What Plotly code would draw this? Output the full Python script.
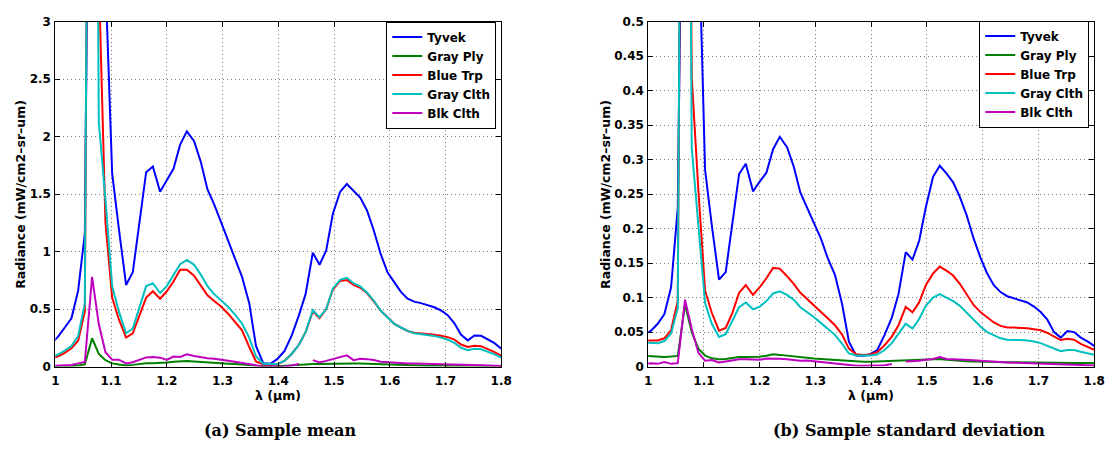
import plotly.graph_objects as go

# wavelength samples (um)
wl = [0.993, 1.005, 1.017, 1.029, 1.041, 1.053, 1.066, 1.078, 1.090, 1.102,
      1.114, 1.127, 1.139, 1.151, 1.163, 1.175, 1.188, 1.200, 1.212, 1.224,
      1.236, 1.249, 1.261, 1.273, 1.285, 1.297, 1.310, 1.322, 1.335, 1.348,
      1.360, 1.373, 1.386, 1.398, 1.411, 1.424, 1.437, 1.449, 1.462, 1.474,
      1.486, 1.498, 1.511, 1.523, 1.535, 1.547, 1.559, 1.571, 1.584, 1.596,
      1.608, 1.620, 1.632, 1.644, 1.656, 1.668, 1.680, 1.692, 1.704, 1.716,
      1.728, 1.740, 1.752, 1.764, 1.776, 1.788, 1.800, 1.812]

names = ["Tyvek", "Gray Ply", "Blue Trp", "Gray Clth", "Blk Clth"]
colors = ["#0000FF", "#008000", "#FF0000", "#00BFBF", "#BF00BF"]

# ---- (a) sample mean ----
mean_tyvek = [0.20, 0.26, 0.34, 0.42, 0.66, 1.16, 8.0, 12.0, 3.37, 1.68,
              1.20, 0.71, 0.82, 1.26, 1.69, 1.74, 1.52, 1.62, 1.72, 1.93,
              2.045, 1.96, 1.78, 1.54, 1.41, 1.26, 1.10, 0.94, 0.78, 0.55,
              0.18, 0.03, 0.025, 0.065, 0.135, 0.27, 0.445, 0.63, 0.99, 0.885,
              1.01, 1.33, 1.52, 1.587, 1.525, 1.47, 1.36, 1.19, 0.975, 0.82,
              0.735, 0.65, 0.59, 0.565, 0.552, 0.536, 0.516, 0.488, 0.447, 0.376,
              0.277, 0.228, 0.27, 0.268, 0.238, 0.204, 0.155, 0.12]
mean_grayply = [0.0, 0.0, 0.002, 0.005, 0.01, 0.02, 0.247, 0.11, 0.055, 0.028,
                0.018, 0.01, 0.015, 0.022, 0.03, 0.03, 0.03, 0.035, 0.042, 0.048,
                0.048, 0.045, 0.04, 0.04, 0.035, 0.03, 0.025, 0.022, 0.02, 0.015,
                0.008, 0.004, 0.003, 0.003, 0.008, 0.012, 0.015, 0.018, 0.022, 0.022,
                0.024, 0.026, 0.028, 0.028, 0.027, 0.026, 0.024, 0.02, 0.017, 0.014,
                0.012, 0.01, 0.009, 0.009, 0.008, 0.008, 0.008, 0.007, 0.007, 0.007,
                0.006, 0.006, 0.006, 0.005, 0.005, 0.005, 0.004, 0.004]
mean_bluetrp = [0.07, 0.09, 0.12, 0.16, 0.225, 0.48, 12.0, 3.4, 1.25, 0.60,
                0.41, 0.253, 0.29, 0.44, 0.60, 0.655, 0.59, 0.655, 0.74, 0.843,
                0.843, 0.79, 0.71, 0.62, 0.57, 0.525, 0.46, 0.395, 0.315, 0.17,
                0.045, 0.02, 0.015, 0.02, 0.05, 0.11, 0.19, 0.30, 0.48, 0.42,
                0.50, 0.67, 0.745, 0.753, 0.71, 0.685, 0.64, 0.57, 0.485, 0.43,
                0.372, 0.34, 0.31, 0.295, 0.29, 0.284, 0.276, 0.268, 0.256, 0.234,
                0.192, 0.171, 0.182, 0.178, 0.155, 0.126, 0.093, 0.07]
mean_grayclth = [0.085, 0.105, 0.14, 0.18, 0.265, 0.55, 12.0, 2.13, 1.45, 0.70,
                 0.48, 0.29, 0.33, 0.51, 0.70, 0.725, 0.64, 0.70, 0.795, 0.89,
                 0.927, 0.885, 0.80, 0.70, 0.63, 0.58, 0.52, 0.455, 0.375, 0.25,
                 0.09, 0.025, 0.02, 0.02, 0.05, 0.11, 0.19, 0.30, 0.49, 0.43,
                 0.50, 0.68, 0.755, 0.772, 0.725, 0.697, 0.645, 0.575, 0.485, 0.43,
                 0.372, 0.34, 0.31, 0.29, 0.284, 0.276, 0.267, 0.252, 0.234, 0.206,
                 0.164, 0.143, 0.155, 0.15, 0.13, 0.107, 0.079, 0.06]
mean_blkclth = [0.005, 0.008, 0.01, 0.014, 0.028, 0.04, 0.78, 0.37, 0.125, 0.06,
                0.06, 0.028, 0.038, 0.06, 0.08, 0.084, 0.078, 0.058, 0.087, 0.084,
                0.107, 0.093, 0.08, 0.072, 0.068, 0.062, 0.05, 0.042, 0.032, 0.024,
                0.01, 0.002, 0.0, 0.0, 0.002, 0.01, 0.022, None, 0.056, 0.036,
                0.05, 0.065, 0.078, 0.098, 0.056, 0.068, 0.065, 0.058, 0.043, 0.038,
                0.034, 0.03, 0.028, 0.026, 0.025, 0.024, 0.024, 0.023, 0.022, 0.022,
                0.02, 0.018, 0.015, 0.012, 0.009, 0.006, 0.004, 0.003]

# ---- (b) sample standard deviation ----
std_tyvek = [0.047, 0.052, 0.062, 0.076, 0.115, 0.23, 1.1, 1.5, 0.65, 0.285,
             0.205, 0.126, 0.137, 0.205, 0.279, 0.294, 0.254, 0.268, 0.281, 0.315,
             0.333, 0.318, 0.29, 0.252, 0.23, 0.21, 0.185, 0.157, 0.133, 0.09,
             0.036, 0.016, 0.0158, 0.018, 0.024, 0.046, 0.071, 0.105, 0.166, 0.155,
             0.182, 0.231, 0.275, 0.291, 0.28, 0.267, 0.246, 0.22, 0.185, 0.158,
             0.135, 0.118, 0.108, 0.102, 0.099, 0.096, 0.093, 0.087, 0.079, 0.068,
             0.05, 0.042, 0.0515, 0.05, 0.042, 0.0365, 0.03, 0.025]
std_grayply = [0.0155, 0.015, 0.014, 0.014, 0.0145, 0.0155, 0.09, 0.05, 0.026, 0.016,
               0.012, 0.0108, 0.011, 0.0125, 0.0138, 0.014, 0.0138, 0.0142, 0.0158, 0.0178,
               0.017, 0.0158, 0.0145, 0.013, 0.0125, 0.0118, 0.0112, 0.0105, 0.0095, 0.0085,
               0.0075, 0.007, 0.007, 0.007, 0.0075, 0.008, 0.0085, 0.009, 0.0095, 0.0098,
               0.0098, 0.01, 0.0105, 0.011, 0.0098, 0.0088, 0.0082, 0.0078, 0.0074, 0.007,
               0.0068, 0.0066, 0.0064, 0.0063, 0.0062, 0.006, 0.006, 0.006, 0.0058, 0.0057,
               0.0056, 0.0055, 0.0055, 0.0054, 0.0053, 0.0052, 0.005, 0.005]
std_bluetrp = [0.038, 0.038, 0.038, 0.041, 0.053, 0.095, 1.8, 0.42, 0.255, 0.11,
               0.078, 0.052, 0.056, 0.078, 0.107, 0.118, 0.104, 0.115, 0.128, 0.143,
               0.142, 0.131, 0.12, 0.107, 0.098, 0.09, 0.08, 0.07, 0.06, 0.046,
               0.026, 0.018, 0.017, 0.0175, 0.021, 0.031, 0.0435, 0.06, 0.0866, 0.0787,
               0.093, 0.118, 0.135, 0.145, 0.139, 0.132, 0.12, 0.106, 0.089, 0.079,
               0.071, 0.064, 0.059, 0.0566, 0.0566, 0.0562, 0.0555, 0.054, 0.0527, 0.049,
               0.044, 0.0385, 0.0403, 0.039, 0.033, 0.029, 0.024, 0.02]
std_grayclth = [0.035, 0.035, 0.034, 0.037, 0.048, 0.085, 2.0, 0.317, 0.2, 0.092,
                0.062, 0.043, 0.047, 0.066, 0.086, 0.093, 0.083, 0.087, 0.095, 0.106,
                0.109, 0.104, 0.097, 0.086, 0.079, 0.072, 0.063, 0.055, 0.046, 0.033,
                0.019, 0.016, 0.0155, 0.016, 0.0175, 0.024, 0.034, 0.047, 0.0623, 0.0552,
                0.069, 0.088, 0.1, 0.105, 0.0997, 0.095, 0.088, 0.078, 0.068, 0.058,
                0.05, 0.045, 0.041, 0.039, 0.039, 0.0385, 0.0378, 0.0365, 0.034, 0.03,
                0.026, 0.0222, 0.024, 0.024, 0.0215, 0.019, 0.017, 0.015]
std_blkclth = [0.004, 0.005, 0.004, 0.0065, 0.004, 0.005, 0.097, 0.055, 0.02, 0.0085,
               0.0095, 0.006, 0.0075, 0.0095, 0.0108, 0.0108, 0.0105, 0.0098, 0.0117, 0.0117,
               0.0115, 0.0105, 0.0095, 0.0085, 0.009, 0.008, 0.0065, 0.005, 0.004, 0.0035,
               0.0018, 0.0014, 0.0014, 0.0014, 0.0014, 0.002, 0.0037, None, 0.0075, 0.0075,
               0.0085, 0.0098, 0.011, 0.014, 0.011, 0.0108, 0.0105, 0.0098, 0.0092, 0.0084,
               0.0075, 0.007, 0.0065, 0.006, 0.0057, 0.0052, 0.005, 0.0047, 0.0045, 0.004,
               0.0037, 0.0034, 0.003, 0.0027, 0.0022, 0.0017, 0.0014, 0.0012]

x_ticks = [1.0, 1.1, 1.2, 1.3, 1.4, 1.5, 1.6, 1.7, 1.8]
x_ticklabels = ["1", "1.1", "1.2", "1.3", "1.4", "1.5", "1.6", "1.7", "1.8"]
mean_yticks = [0, 0.5, 1, 1.5, 2, 2.5, 3]
mean_yticklabels = ["0", "0.5", "1", "1.5", "2", "2.5", "3"]
std_yticks = [0, 0.05, 0.1, 0.15, 0.2, 0.25, 0.3, 0.35, 0.4, 0.45, 0.5]
std_yticklabels = ["0", "0.05", "0.1", "0.15", "0.2", "0.25", "0.3", "0.35", "0.4", "0.45", "0.5"]

mean_series = [mean_tyvek, mean_grayply, mean_bluetrp, mean_grayclth, mean_blkclth]
std_series = [std_tyvek, std_grayply, std_bluetrp, std_grayclth, std_blkclth]

W, H = 1117, 456
FONT = "DejaVu Sans"

fig = go.Figure()
for name, col, ys in zip(names, colors, mean_series):
    fig.add_trace(go.Scatter(x=wl, y=ys, mode="lines", name=name,
                             line=dict(color=col, width=2),
                             xaxis="x", yaxis="y", legend="legend",
                             connectgaps=False))
for name, col, ys in zip(names, colors, std_series):
    fig.add_trace(go.Scatter(x=wl, y=ys, mode="lines", name=name,
                             line=dict(color=col, width=2),
                             xaxis="x2", yaxis="y2", legend="legend2",
                             connectgaps=False))


def px_x(p):
    return p / W


def px_y(p):
    return (H - p) / H


ax_common = dict(showline=True, linecolor="black", linewidth=1, mirror="ticks",
                 ticks="inside", ticklen=5, tickcolor="black", tickwidth=1,
                 showgrid=True, gridcolor="#7a7a7a", gridwidth=1, griddash="1px,3px",
                 zeroline=False,
                 tickfont=dict(family=FONT, size=12, color="black", weight="bold"))

fig.update_layout(
    width=W, height=H,
    margin=dict(l=0, r=0, t=0, b=0),
    paper_bgcolor="white", plot_bgcolor="white",
    xaxis=dict(domain=[px_x(52), px_x(504)], range=[1, 1.8], tickvals=x_ticks,
               ticktext=x_ticklabels, anchor="y", ticklabelstandoff=3, **ax_common),
    yaxis=dict(domain=[px_y(371), px_y(15)], range=[0, 3], tickvals=mean_yticks,
               ticktext=mean_yticklabels, anchor="x", ticklabelstandoff=1, **ax_common),
    xaxis2=dict(domain=[px_x(653), px_x(1105)], range=[1, 1.8], tickvals=x_ticks,
                ticktext=x_ticklabels, anchor="y2", ticklabelstandoff=3, **ax_common),
    yaxis2=dict(domain=[px_y(371), px_y(15)], range=[0, 0.5], tickvals=std_yticks,
                ticktext=std_yticklabels, anchor="x2", ticklabelstandoff=1, **ax_common),
    legend=dict(x=px_x(499), xanchor="right", y=px_y(15), yanchor="top",
                bgcolor="white", bordercolor="black", borderwidth=1,
                font=dict(family=FONT, size=12, color="black", weight="bold"),
                itemwidth=30, tracegroupgap=0),
    legend2=dict(x=px_x(1100), xanchor="right", y=px_y(14), yanchor="top",
                 bgcolor="white", bordercolor="black", borderwidth=1,
                 font=dict(family=FONT, size=12, color="black", weight="bold"),
                 itemwidth=30, tracegroupgap=0),
    showlegend=True,
)

ylabel = "Radiance (mW/cm2\u2013sr\u2013um)"
xlabel = "\u03bb (\u03bcm)"
annos = [
    dict(text=ylabel, x=px_x(16), y=px_y(193), textangle=-90),
    dict(text=ylabel, x=px_x(609), y=px_y(193), textangle=-90),
    dict(text=xlabel, x=px_x(278), y=px_y(401)),
    dict(text=xlabel, x=px_x(879), y=px_y(401)),
]
for a in annos:
    fig.add_annotation(xref="paper", yref="paper", showarrow=False,
                       xanchor="center", yanchor="middle",
                       font=dict(family=FONT, size=12.5, color="black", weight="bold"), **a)

captions = [
    dict(text="(a) Sample mean", x=px_x(280), y=px_y(437)),
    dict(text="(b) Sample standard deviation", x=px_x(917), y=px_y(437)),
]
for c in captions:
    fig.add_annotation(xref="paper", yref="paper", showarrow=False,
                       xanchor="center", yanchor="middle",
                       font=dict(family="DejaVu Serif", size=16, color="black", weight="bold"), **c)

fig.write_html("out.html")
